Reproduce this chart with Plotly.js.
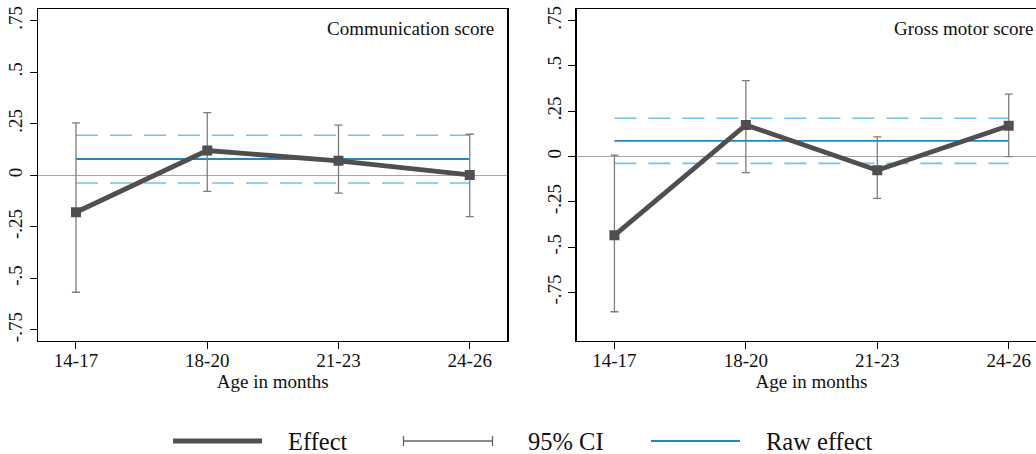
<!DOCTYPE html>
<html>
<head>
<meta charset="utf-8">
<script src="https://cdn.plot.ly/plotly-3.0.1.min.js"></script>
<style>
  html, body { margin: 0; padding: 0; background: #fff; overflow: hidden; }
  #chart { width: 1050px; height: 454px; }
</style>
</head>
<body>
<div id="chart"></div>
<script>
// Age groups on the x axis
const ageGroups = ['14-17', '18-20', '21-23', '24-26'];

// Communication score: estimated effect and 95% CI by age group
const commEffect = [-0.179, 0.120, 0.070, 0.002];
const commLower  = [-0.567, -0.078, -0.086, -0.200];
const commUpper  = [0.254, 0.304, 0.243, 0.199];
// Communication score: pooled raw effect and its CI
const commRaw      = 0.079;
const commRawLower = -0.037;
const commRawUpper = 0.194;

// Gross motor score: estimated effect and 95% CI by age group
const motorEffect = [-0.435, 0.174, -0.076, 0.170];
const motorLower  = [-0.857, -0.089, -0.231, -0.001];
const motorUpper  = [0.008, 0.419, 0.108, 0.345];
// Gross motor score: pooled raw effect and its CI
const motorRaw      = 0.086;
const motorRawLower = -0.038;
const motorRawUpper = 0.211;

const yTickVals = [-0.75, -0.5, -0.25, 0, 0.25, 0.5, 0.75];
const yTickText = ['-.75', '-.5', '-.25', '0', '.25', '.5', '.75'];

const W = 1050, H = 454;
const px = v => v / W;
const py = v => 1 - v / H;

const FONT = '"Liberation Serif", "DejaVu Serif", serif';
const EFFECT_COLOR = '#4f4f4f';
const CI_COLOR = '#7c7c7c';
const RAW_COLOR = '#1f8bbd';
const RAW_CI_COLOR = '#74c3e6';

function panelTraces(effect, lower, upper, raw, rawLo, rawHi, xa, ya) {
  const ends = [ageGroups[0], ageGroups[ageGroups.length - 1]];
  const dashed = {width: 1.6, color: RAW_CI_COLOR, dash: '22px,12px'};
  return [
    {x: ends, y: [rawHi, rawHi], mode: 'lines', line: dashed,
     xaxis: xa, yaxis: ya, hoverinfo: 'skip', showlegend: false},
    {x: ends, y: [rawLo, rawLo], mode: 'lines', line: dashed,
     xaxis: xa, yaxis: ya, hoverinfo: 'skip', showlegend: false},
    {x: ends, y: [raw, raw], mode: 'lines', line: {width: 1.8, color: RAW_COLOR},
     xaxis: xa, yaxis: ya, showlegend: false},
    {x: ageGroups, y: effect, mode: 'markers', marker: {opacity: 0, size: 1},
     error_y: {
       type: 'data', symmetric: false,
       array: upper.map((u, i) => u - effect[i]),
       arrayminus: effect.map((e, i) => e - lower[i]),
       color: CI_COLOR, thickness: 1.3, width: 4
     },
     xaxis: xa, yaxis: ya, hoverinfo: 'skip', showlegend: false},
    {x: ageGroups, y: effect, mode: 'lines+markers',
     line: {width: 4.8, color: EFFECT_COLOR},
     marker: {symbol: 'square', size: 10, color: EFFECT_COLOR},
     xaxis: xa, yaxis: ya, showlegend: false}
  ];
}

const data = [
  ...panelTraces(commEffect, commLower, commUpper, commRaw, commRawLower, commRawUpper, 'x', 'y'),
  ...panelTraces(motorEffect, motorLower, motorUpper, motorRaw, motorRawLower, motorRawUpper, 'x2', 'y2')
];

const tickFont = {family: FONT, size: 19, color: '#111'};

function xAxis(domain, anchor) {
  return {
    type: 'category', categoryorder: 'array', categoryarray: ageGroups,
    domain: domain, anchor: anchor,
    range: [-0.287, 3.286],
    showline: true, mirror: true, linecolor: '#000', linewidth: 1.5,
    showgrid: false, zeroline: false,
    ticks: 'outside', ticklen: 7, tickwidth: 1, tickcolor: '#000',
    tickfont: tickFont, ticklabelstandoff: -5,
    title: {text: 'Age in months', font: {family: FONT, size: 19, color: '#111'}, standoff: 0},
    fixedrange: true
  };
}

function yAxis(range, anchor) {
  return {
    domain: [py(340.7), py(9.3)], anchor: anchor, range: range,
    showline: true, mirror: true, linecolor: '#000', linewidth: 1.5,
    showgrid: false,
    zeroline: true, zerolinecolor: '#a6a6a6', zerolinewidth: 1.3,
    tickmode: 'array', tickvals: yTickVals, ticktext: yTickText,
    ticks: 'outside', ticklen: 7, tickwidth: 1, tickcolor: '#000',
    tickangle: -90, tickfont: tickFont,
    fixedrange: true
  };
}

// Hand-drawn legend row beneath both panels
const legendY = 441;
const shapes = [
  {type: 'line', xref: 'paper', yref: 'paper',
   x0: px(173), x1: px(262), y0: py(legendY), y1: py(legendY),
   line: {color: EFFECT_COLOR, width: 5}},
  {type: 'line', xref: 'paper', yref: 'paper',
   x0: px(403), x1: px(493), y0: py(legendY), y1: py(legendY),
   line: {color: '#666', width: 1.3}},
  {type: 'line', xref: 'paper', yref: 'paper',
   x0: px(403.5), x1: px(403.5), y0: py(legendY - 5), y1: py(legendY + 5),
   line: {color: '#666', width: 1.3}},
  {type: 'line', xref: 'paper', yref: 'paper',
   x0: px(492.5), x1: px(492.5), y0: py(legendY - 5), y1: py(legendY + 5),
   line: {color: '#666', width: 1.3}},
  {type: 'line', xref: 'paper', yref: 'paper',
   x0: px(651), x1: px(740), y0: py(legendY), y1: py(legendY),
   line: {color: RAW_COLOR, width: 2}}
];

const legendFont = {family: FONT, size: 24.5, color: '#111'};
const annotations = [
  {text: 'Communication score', xref: 'x domain', yref: 'y domain', x: 1, y: 1,
   xanchor: 'right', yanchor: 'middle', xshift: -11, yshift: -19,
   showarrow: false, font: {family: FONT, size: 19, color: '#111'}},
  {text: 'Gross motor score', xref: 'x2 domain', yref: 'y2 domain', x: 1, y: 1,
   xanchor: 'right', yanchor: 'middle', xshift: -11, yshift: -19,
   showarrow: false, font: {family: FONT, size: 19, color: '#111'}},
  {text: 'Effect', xref: 'paper', yref: 'paper', x: px(286), y: py(legendY),
   xanchor: 'left', yanchor: 'middle', showarrow: false, font: legendFont},
  {text: '95% CI', xref: 'paper', yref: 'paper', x: px(526), y: py(legendY),
   xanchor: 'left', yanchor: 'middle', showarrow: false, font: legendFont},
  {text: 'Raw effect', xref: 'paper', yref: 'paper', x: px(764), y: py(legendY),
   xanchor: 'left', yanchor: 'middle', showarrow: false, font: legendFont}
];

const layout = {
  width: W, height: H,
  margin: {l: 0, r: 0, t: 0, b: 0},
  paper_bgcolor: '#fff', plot_bgcolor: '#fff',
  showlegend: false,
  xaxis: xAxis([px(38.3), px(507.3)], 'y'),
  yaxis: yAxis([-0.802, 0.805], 'x'),
  xaxis2: xAxis([px(576.7), px(1046.3)], 'y2'),
  yaxis2: yAxis([-1.017, 0.813], 'x2'),
  shapes: shapes,
  annotations: annotations
};

Plotly.newPlot('chart', data, layout, {displayModeBar: false, staticPlot: true});
</script>
</body>
</html>
